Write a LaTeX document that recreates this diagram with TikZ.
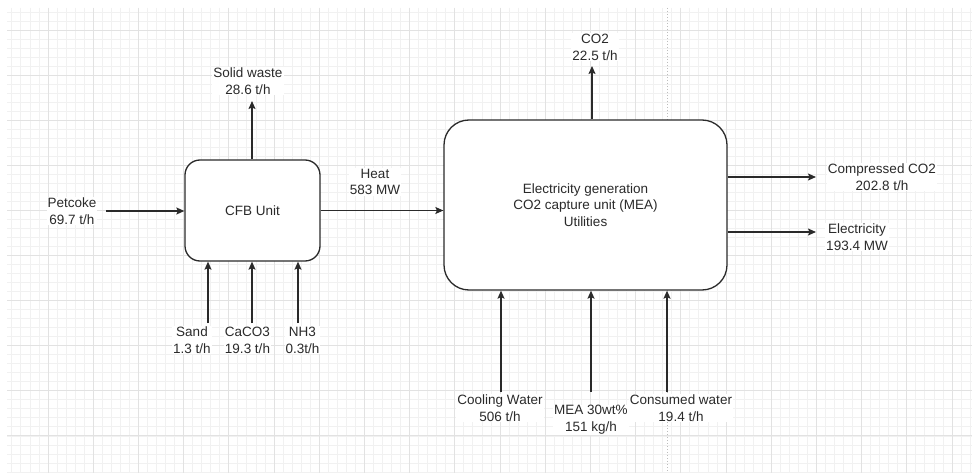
\documentclass[tikz,border=0pt]{standalone}
\usepackage{fontspec}
\setmainfont{Liberation Sans}
\usetikzlibrary{arrows.meta}
\definecolor{gridminor}{HTML}{F1F1F1}
\definecolor{gridmajor}{HTML}{E2E2E2}
\definecolor{ink}{HTML}{2A2A2A}
\definecolor{pagebrk}{HTML}{BDBDBD}
\begin{document}
\begin{tikzpicture}[x=1pt,y=-1pt,
  every node/.style={font=\fontsize{13.5}{16.8}\selectfont, text=ink},
  unitbox/.style={draw=ink, line width=1.3pt, fill=white, rounded corners=#1},
  lbl/.style={fill=white, align=center, inner xsep=1pt, inner ysep=0.5pt},
  flow/.style={draw=ink, line width=1.3pt, -{Stealth[length=8pt,width=7pt,inset=1.5pt]}},
  minorline/.style={draw=gridminor, line width=0.8pt},
  majorline/.style={draw=gridmajor, line width=0.9pt}]
\useasboundingbox (0,0) rectangle (972,473);
\fill[white] (0,0) rectangle (972,473);
% background grid
\begin{scope}
\clip (7,8) rectangle (972,473);
\foreach \k in {-5,...,102} {\draw[minorline] ({48+9.04*\k},8) -- ({48+9.04*\k},473);}
\foreach \k in {-3,...,50} {\draw[minorline] (7,{30+9.02*\k}) -- (972,{30+9.02*\k});}
\foreach \k in {-1,...,21} {\draw[majorline] ({48+45.2*\k},8) -- ({48+45.2*\k},473);}
\foreach \k in {-1,...,10} {\draw[majorline] (7,{30+45.1*\k}) -- (972,{30+45.1*\k});}
\end{scope}
% page break line
\draw[pagebrk, line width=1pt, dotted] (667,8) -- (667,473);

% units
\node[unitbox=15pt, minimum width=135pt, minimum height=101pt] (cfb) at (252.5,210.5) {CFB Unit};
\node[unitbox=25pt, minimum width=283pt, minimum height=170pt, align=center] (big) at (585.5,205)
  {Electricity generation\\CO2 capture unit (MEA)\\Utilities};

% labels
\node[lbl] (pet) at (72,211) {Petcoke\\69.7 t/h};
\node[lbl] (solid) at (248,81) {Solid waste\\28.6 t/h};
\node[lbl] (heat) at (375,182) {Heat\\583 MW};
\node[lbl] (sand) at (192,340) {Sand\\1.3 t/h};
\node[lbl] (caco) at (247.5,340) {CaCO3\\19.3 t/h};
\node[lbl] (nh) at (302.5,340) {NH3\\0.3t/h};
\node[lbl] (co2) at (595,47) {CO2\\22.5 t/h};
\node[lbl] (cco2) at (882,177) {Compressed CO2\\202.8 t/h};
\node[lbl] (elec) at (857,237) {Electricity\\193.4 MW};
\node[lbl] (cool) at (500,408) {Cooling Water\\506 t/h};
\node[lbl] (mea) at (591,420) {MEA 30wt\%\\151 kg/h};
\node[lbl] (cons) at (681,408) {Consumed water\\19.4 t/h};

% free ends of connectors
\coordinate (petS) at (106,211);
\coordinate (solidE) at (252,101);
\coordinate (sandS) at (208,323);
\coordinate (cacoS) at (252,323);
\coordinate (nhS) at (298,323);
\coordinate (co2E) at (592,66);
\coordinate (cco2E) at (816,177);
\coordinate (elecE) at (816,232);
\coordinate (coolS) at (501,392);
\coordinate (meaS) at (591,392);
\coordinate (consS) at (667,392);

% connectors
\draw[flow] (petS) -- (petS -| cfb.west);
\draw[flow] (solidE |- cfb.north) -- (solidE);
\draw[flow] (sandS) -- (sandS |- cfb.south);
\draw[flow] (cacoS) -- (cacoS |- cfb.south);
\draw[flow] (nhS) -- (nhS |- cfb.south);
\draw[flow] (cfb.east) -- (cfb.east -| big.west);
\draw[flow] (co2E |- big.north) -- (co2E);
\draw[flow] (cco2E -| big.east) -- (cco2E);
\draw[flow] (elecE -| big.east) -- (elecE);
\draw[flow] (coolS) -- (coolS |- big.south);
\draw[flow] (meaS) -- (meaS |- big.south);
\draw[flow] (consS) -- (consS |- big.south);
\end{tikzpicture}
\end{document}
